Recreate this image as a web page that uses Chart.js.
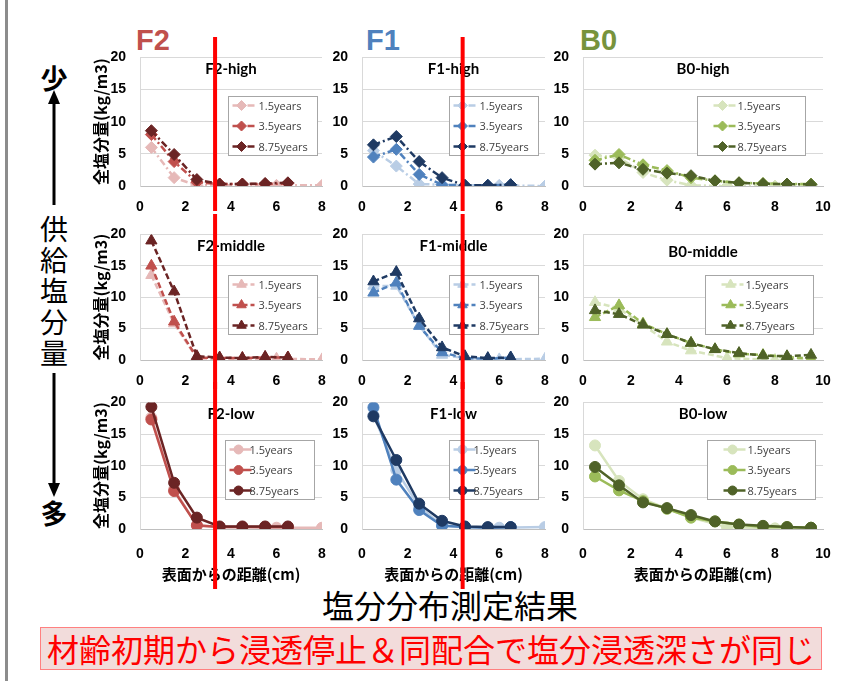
<!DOCTYPE html>
<html lang="ja">
<head>
<meta charset="utf-8">
<title>塩分分布測定結果</title>
<script src="https://cdn.jsdelivr.net/npm/chart.js@4.4.1/dist/chart.umd.min.js"></script>
<style>
  html, body { margin: 0; padding: 0; background: #fff; }
  body { width: 853px; height: 681px; position: relative; overflow: hidden; font-family: "Noto Sans CJK JP", sans-serif; }
  canvas { position: absolute; }
  .frame { position: absolute; left: 5px; top: 0; width: 3px; height: 681px; background: #8c8c8c; }
  .group { position: absolute; top: 26px; font: bold 29px/29px "Liberation Sans", Arial, sans-serif; }
  .side { position: absolute; left: 34px; width: 40px; text-align: center; color: #000; }
  .heading { position: absolute; left: 250px; width: 400px; top: 588px; text-align: center; font-size: 32px; line-height: 32px; color: #000; }
  .note { position: absolute; left: 40px; top: 627px; width: 780px; height: 41px; background: #f2dcdb; border: 1px solid #ff8080;
          color: #ff0000; font-size: 32px; line-height: 41px; text-align: center; white-space: nowrap; }
</style>
</head>
<body>
<div class="frame"></div>
<div class="group" style="left:136px;color:#c0504d">F2</div>
<div class="group" style="left:366px;color:#4f81bd">F1</div>
<div class="group" style="left:580px;color:#77933c">B0</div>

<div class="side" style="top:64px;font-size:27px;line-height:27px;font-weight:bold">少</div>
<div class="side" style="top:213px;font-size:28px;line-height:31px">供<br>給<br>塩<br>分<br>量</div>
<div class="side" style="top:499px;font-size:27px;line-height:27px;font-weight:bold">多</div>
<svg style="position:absolute;left:0;top:0" width="100" height="681">
  <line x1="54" y1="100" x2="54" y2="205" stroke="#000" stroke-width="3"/>
  <polygon points="54,90 48,104 60,104" fill="#000"/>
  <line x1="54" y1="373" x2="54" y2="485" stroke="#000" stroke-width="3"/>
  <polygon points="54,497 48,483 60,483" fill="#000"/>
</svg>

<div class="heading">塩分分布測定結果</div>
<div class="note">材齢初期から浸透停止＆同配合で塩分浸透深さが同じ</div>

<script>
// 表面からの距離 (cm)
const depthF = [0.5, 1.5, 2.5, 3.5, 4.5, 5.5, 6.5];
const depthF15 = [0.5, 1.5, 2.5, 3.5, 4.5, 6, 8];
const depthB = [0.5, 1.5, 2.5, 3.5, 4.5, 5.5, 6.5, 7.5, 8.5, 9.5];
const depthB15 = [0.5, 1.5, 2.5, 3.5, 4.5, 6, 8, 9.5];

const ages = ['1.5years', '3.5years', '8.75years'];
const groups = ['F2', 'F1', 'B0'];
const levels = ['high', 'middle', 'low'];

// 浸透深さ (cm) 赤線
const penetration = [3.3, 4.4, null];

// 全塩分量 (kg/m3)  [1.5years, 3.5years, 8.75years]
const F2_high = [
  [6.0, 1.3, 0.1, 0.1, 0.1, 0.1, 0.1],
  [8.0, 3.8, 0.6, 0.3, 0.3, 0.3, 0.4],
  [8.6, 4.9, 1.0, 0.3, 0.3, 0.4, 0.5]
];
const F2_middle = [
  [13.5, 5.8, 0.3, 0.2, 0.2, 0.2, 0.1],
  [15.0, 6.1, 0.4, 0.3, 0.3, 0.4, 0.4],
  [19.0, 10.9, 0.6, 0.4, 0.3, 0.5, 0.4]
];
const F2_low = [
  [17.6, 6.3, 0.5, 0.3, 0.3, 0.2, 0.2],
  [17.3, 6.0, 0.6, 0.3, 0.3, 0.3, 0.3],
  [19.3, 7.3, 1.8, 0.4, 0.4, 0.4, 0.4]
];
const F1_high = [
  [5.5, 3.1, 0.3, 0.2, 0.1, 0.1, 0.0],
  [4.5, 5.7, 1.8, 0.2, 0.1, 0.1, 0.2],
  [6.4, 7.7, 3.8, 1.3, 0.1, 0.1, 0.2]
];
const F1_middle = [
  [11.8, 11.8, 5.5, 0.8, 0.3, 0.1, 0.2],
  [10.7, 12.3, 5.4, 1.2, 0.3, 0.2, 0.4],
  [12.5, 14.0, 6.6, 2.0, 0.6, 0.3, 0.4]
];
const F1_low = [
  [18.0, 9.3, 3.5, 0.6, 0.3, 0.2, 0.3],
  [19.2, 7.8, 3.0, 0.5, 0.3, 0.2, 0.3],
  [17.8, 10.9, 4.0, 1.3, 0.4, 0.3, 0.3]
];
const B0_high = [
  [4.8, 4.4, 2.1, 0.9, 0.1, 0.0, 0.0, 0.1],
  [4.0, 4.9, 3.3, 2.4, 1.3, 0.8, 0.5, 0.4, 0.3, 0.3],
  [3.4, 3.6, 2.6, 2.0, 1.6, 0.8, 0.5, 0.35, 0.3, 0.25]
];
const B0_middle = [
  [9.2, 8.2, 5.6, 2.9, 1.5, 0.3, 0.0, 0.2],
  [6.8, 8.7, 5.8, 4.1, 2.7, 1.7, 1.0, 0.8, 0.5, 0.2],
  [7.9, 7.3, 5.6, 4.1, 2.7, 1.7, 1.1, 0.7, 0.6, 0.8]
];
const B0_low = [
  [13.2, 7.6, 4.7, 3.2, 1.8, 0.3, 0.1, 0.2],
  [8.3, 6.1, 4.4, 3.2, 1.8, 1.2, 0.7, 0.3, 0.3, 0.2],
  [9.8, 6.9, 4.2, 3.3, 2.2, 1.2, 0.7, 0.5, 0.3, 0.2]
];

const panels = [
  [F2_high, F1_high, B0_high],
  [F2_middle, F1_middle, B0_middle],
  [F2_low, F1_low, B0_low]
];

const colors = {
  F2: ['#e6b9b8', '#c0504d', '#6b2424'],
  F1: ['#b9cde5', '#4f81bd', '#1f3a63'],
  B0: ['#d7e4bd', '#9bbb59', '#4f6228']
};
const lineStyle = {
  high:   { point: 'rectRot',  dash: [7, 3, 2, 3], r: 6 },
  middle: { point: 'triangle', dash: [6, 3],       r: 6.5 },
  low:    { point: 'circle',   dash: [],           r: 5.5 }
};

// 配置 (px)
const cols = [
  { plotL: 140, plotR: 322, xMax: 8,  axisW: 50 },
  { plotL: 362, plotR: 545, xMax: 8,  axisW: 42 },
  { plotL: 583, plotR: 823, xMax: 10, axisW: 42 }
];
const rows = [
  { plotT: 54,  plotB: 186, canvasT: 35,  canvasB: 214, tickPad: 13 },
  { plotT: 223, plotB: 360, canvasT: 212, canvasB: 392, tickPad: 13 },
  { plotT: 395, plotB: 529, canvasT: 380, canvasB: 592, tickPad: 17 }
];
const padRight = 28;
const legendTop = [39, 41, 38];
const legendRight = [[5, 7, 18], [5, 7, 10], [8, 7, 8]];

Chart.defaults.font.family = "'Liberation Sans', Arial, sans-serif";

function drawMarker(ctx, style, x, y, r, color) {
  ctx.save();
  ctx.fillStyle = color;
  ctx.strokeStyle = color;
  ctx.lineWidth = 1;
  if (Chart.helpers && Chart.helpers.drawPoint) {
    Chart.helpers.drawPoint(ctx, { pointStyle: style, radius: r, borderWidth: 1, rotation: 0 }, x, y);
  } else {
    ctx.beginPath();
    if (style === 'circle') {
      ctx.arc(x, y, r, 0, Math.PI * 2);
    } else if (style === 'triangle') {
      ctx.moveTo(x, y - r); ctx.lineTo(x + r * 0.87, y + r * 0.5); ctx.lineTo(x - r * 0.87, y + r * 0.5);
    } else {
      ctx.moveTo(x, y - r); ctx.lineTo(x + r, y); ctx.lineTo(x, y + r); ctx.lineTo(x - r, y);
    }
    ctx.closePath();
    ctx.fill();
  }
  ctx.restore();
}

// パネル名・凡例・浸透深さの赤線
const panelDeco = {
  id: 'panelDeco',
  afterDraw(chart, args, o) {
    const { ctx, chartArea: a } = chart;
    ctx.save();

    ctx.font = "bold 15px Lato, 'Open Sans', sans-serif";
    ctx.fillStyle = '#000';
    ctx.textAlign = 'center';
    ctx.textBaseline = 'middle';
    ctx.fillText(o.title, (a.left + a.right) / 2, a.top + o.titleDy);

    const bx = Math.round(a.right - o.box.right - o.box.w) + 0.5;
    const by = Math.round(a.top + o.box.top) + 0.5;
    ctx.fillStyle = '#fff';
    ctx.fillRect(bx, by, o.box.w, o.box.h);
    ctx.strokeStyle = '#a6a6a6';
    ctx.lineWidth = 1;
    ctx.strokeRect(bx, by, o.box.w, o.box.h);

    ctx.font = "11px 'Open Sans', sans-serif";
    ctx.textAlign = 'left';
    chart.data.datasets.forEach((ds, i) => {
      const y = by + 9 + i * 20.5;
      const x0 = bx + o.box.sx, x1 = x0 + o.box.len;
      ctx.strokeStyle = ds.borderColor;
      ctx.lineWidth = ds.borderWidth;
      ctx.setLineDash(ds.borderDash);
      ctx.beginPath(); ctx.moveTo(x0, y); ctx.lineTo(x1, y); ctx.stroke();
      ctx.setLineDash([]);
      drawMarker(ctx, ds.pointStyle, (x0 + x1) / 2 - 2, y, ds.pointRadius - 1, ds.backgroundColor);
      ctx.fillStyle = '#404040';
      ctx.fillText(ds.label, bx + o.box.tx, y + 1);
    });

    if (o.depth != null) {
      const px = chart.scales.x.getPixelForValue(o.depth);
      ctx.strokeStyle = '#ff0000';
      ctx.lineWidth = 4;
      ctx.beginPath(); ctx.moveTo(px, 2); ctx.lineTo(px, chart.height - 3); ctx.stroke();
    }
    ctx.restore();
  }
};

function makePanel(r, c) {
  const col = cols[c], row = rows[r];
  const group = groups[c], level = levels[r];
  const st = lineStyle[level];
  const values = panels[r][c];
  const xs = c === 2 ? [depthB15, depthB, depthB] : [depthF15, depthF, depthF];

  const canvas = document.createElement('canvas');
  const left = col.plotL - col.axisW;
  const width = col.axisW + (col.plotR - col.plotL) + padRight;
  const height = row.canvasB - row.canvasT;
  canvas.width = width;
  canvas.height = height;
  canvas.style.left = left + 'px';
  canvas.style.top = row.canvasT + 'px';
  canvas.style.width = width + 'px';
  canvas.style.height = height + 'px';
  document.body.appendChild(canvas);

  const wide = c === 2;
  new Chart(canvas, {
    type: 'line',
    data: {
      datasets: ages.map((age, i) => ({
        label: age,
        data: values[i].map((v, k) => ({ x: xs[i][k], y: v })),
        borderColor: colors[group][i],
        backgroundColor: colors[group][i],
        borderWidth: 2.5,
        borderDash: st.dash,
        pointStyle: st.point,
        pointRadius: st.r,
        pointBorderWidth: 1,
        tension: 0,
        order: 3 - i
      }))
    },
    options: {
      responsive: false,
      animation: false,
      devicePixelRatio: 1,
      layout: { padding: { top: row.plotT - row.canvasT, right: padRight, left: 0, bottom: 0 } },
      plugins: {
        legend: { display: false },
        tooltip: { enabled: false },
        panelDeco: {
          title: group + '-' + level,
          titleDy: c === 2 && r === 1 ? 18 : 12,
          depth: penetration[c],
          box: {
            w: wide ? 108 : 89, h: 59,
            right: legendRight[r][c], top: legendTop[r],
            sx: wide ? 16 : 4, len: 22,
            tx: wide ? 40 : (r === 2 ? 24 : 30)
          }
        }
      },
      scales: {
        x: {
          type: 'linear', min: 0, max: col.xMax,
          ticks: { stepSize: 2, padding: row.tickPad, color: '#000', font: { size: 14, weight: 'bold' } },
          grid: { display: false, drawTicks: false },
          border: { display: true, color: '#bfbfbf', width: 1 },
          title: {
            display: r === 2, text: '表面からの距離(cm)', color: '#000',
            font: { size: 15, weight: 'bold', family: "'Noto Sans CJK JP', sans-serif" },
            padding: { top: 0, bottom: 9 }
          },
          afterFit: s => { s.height = row.canvasB - row.plotB; }
        },
        y: {
          min: 0, max: 20,
          ticks: { stepSize: 5, padding: 14, color: '#000', font: { size: 14, weight: 'bold' } },
          grid: { color: '#d9d9d9', drawTicks: false },
          border: { display: true, color: '#d9d9d9' },
          title: {
            display: c === 0, text: '全塩分量(kg/m3)', color: '#000',
            font: { size: 16, weight: 'bold', family: "'Noto Sans CJK JP', sans-serif" },
            padding: { top: 1, bottom: 0 }
          },
          afterFit: s => { s.width = col.axisW; }
        }
      }
    },
    plugins: [panelDeco]
  });
}

for (let r = 0; r < 3; r++) {
  for (let c = 0; c < 3; c++) makePanel(r, c);
}
</script>
</body>
</html>
